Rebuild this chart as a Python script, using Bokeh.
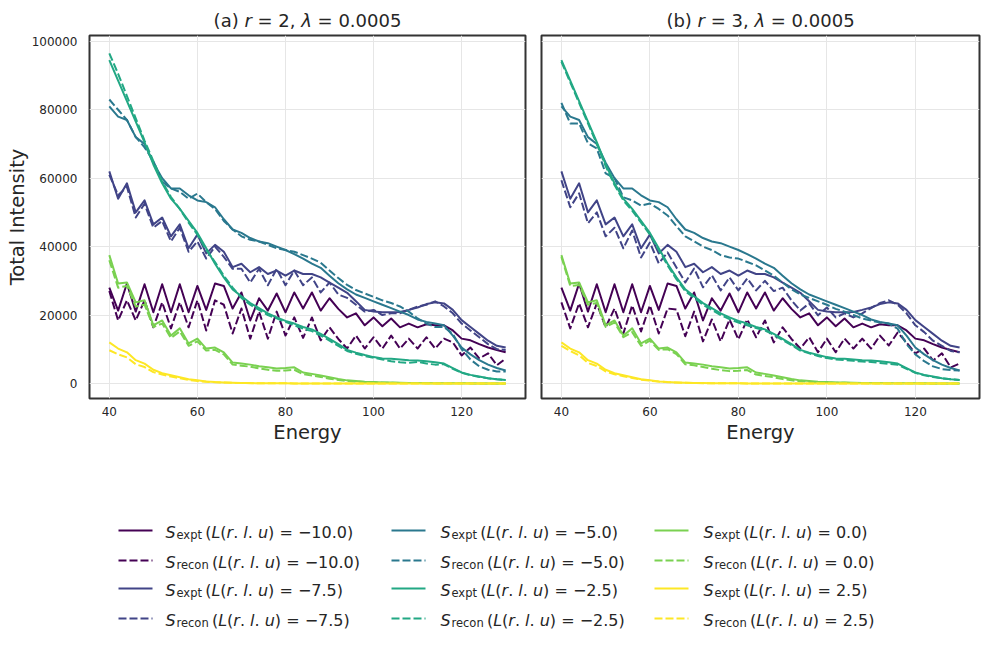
from bokeh.plotting import figure
from bokeh.models import Range1d, FixedTicker, NumeralTickFormatter
from bokeh.layouts import column, row
from bokeh.embed import file_html
from bokeh.resources import INLINE
from bokeh.core.properties import value

energy = [40, 42, 44, 46, 48, 50, 52, 54, 56, 58, 60, 62, 64, 66, 68, 70, 72, 74, 76, 78,
          80, 82, 84, 86, 88, 90, 92, 94, 96, 98, 100, 102, 104, 106, 108, 110, 112, 114,
          116, 118, 120, 122, 124, 126, 128, 130]

levels = ["\u221210.0", "\u22127.5", "\u22125.0", "\u22122.5", "0.0", "2.5"]
colors = ["#440154", "#414487", "#2a788e", "#22a884", "#7ad151", "#fde725"]

# experimental spectra (identical in both panels)
expt_m10 = [28000, 21300, 29200, 21000, 29000, 20800, 29000, 20800, 29000, 20800, 28500, 21500, 29200, 28500, 21900, 26600, 18400, 24900, 21300, 26300,
            20800, 26600, 21900, 26600, 21300, 24900, 21800, 19300, 20500, 17000, 19300, 16700, 19000, 16400, 17500, 16400, 17300, 17000, 17000, 15500,
            13100, 12600, 11500, 10500, 9800, 9100]
expt_m75 = [62000, 54000, 58500, 50000, 53500, 46500, 48500, 43000, 46500, 39500, 43500, 38000, 40500, 38500, 34000, 35000, 32500, 34000, 32000, 33000,
            31500, 33000, 32000, 32000, 31000, 29500, 28000, 26500, 24000, 21500, 21000, 20800, 20800, 20900, 21500, 22200, 23200, 23700, 23400, 21500,
            18500, 16500, 14500, 12500, 11000, 10500]
expt_m50 = [81000, 78000, 77000, 72000, 70000, 64500, 60000, 57000, 57000, 55000, 53500, 53000, 51500, 48000, 45000, 44000, 42500, 41500, 41000, 40000,
            39000, 37800, 36500, 35000, 33800, 31500, 29300, 27500, 26000, 25000, 24000, 23000, 22000, 21000, 20000, 18700, 18000, 17500, 17000, 14000,
            10500, 8500, 6800, 5500, 4500, 3800]
expt_m25 = [94500, 88500, 82500, 76500, 70500, 64000, 58500, 54000, 51000, 47500, 44000, 39500, 35000, 31000, 27500, 25500, 23500, 22000, 20500, 19300,
            18300, 17500, 16500, 15800, 14500, 13000, 11500, 9800, 9000, 8300, 7700, 7300, 7200, 7000, 6800, 6700, 6500, 6200, 5800, 4500,
            3200, 2500, 2000, 1500, 1200, 1000]
expt_0 = [37500, 29200, 29500, 23700, 24300, 17000, 18400, 14000, 16100, 11700, 13100, 10200, 10500, 9100, 6100, 5800, 5500, 5000, 4700, 4400,
          4500, 4700, 3200, 2800, 2300, 1800, 1300, 900, 700, 500, 400, 300, 250, 200, 150, 120, 100, 80, 60, 50,
          40, 30, 20, 15, 10, 5]
expt_25 = [12000, 10200, 9100, 6800, 5800, 4000, 3000, 2400, 1800, 1200, 900, 600, 400, 300, 200, 150, 100, 80, 60, 40,
           30, 20, 15, 10, 8, 6, 5, 4, 3, 2, 2, 1, 1, 1, 1, 0, 0, 0, 0, 0,
           0, 0, 0, 0, 0, 0]

# reconstructions, panel (a): r = 2
recon_a_m10 = [27000, 18400, 24300, 18400, 24300, 16400, 23700, 16100, 23700, 16400, 24300, 15500, 24300, 23000, 14600, 21900, 13100, 21000, 13100, 21000,
               14000, 19300, 13300, 19300, 12600, 16400, 13000, 10200, 14000, 10200, 13500, 10200, 14000, 10200, 13100, 10200, 13500, 10200, 13100, 12000,
               8200, 10500, 7300, 8800, 5300, 7300]
recon_a_m75 = [61000, 55000, 57500, 48500, 52500, 45500, 47500, 41500, 45500, 38500, 41500, 36500, 40000, 37000, 33500, 33500, 29500, 33500, 28700, 33500,
               28700, 33000, 28700, 31000, 26600, 29500, 26000, 25000, 23000, 21000, 21500, 20000, 20500, 20500, 21500, 22500, 23000, 24000, 22500, 20500,
               17500, 15500, 13500, 11500, 10000, 9800]
recon_a_m50 = [83000, 80000, 77000, 72000, 69000, 65000, 59000, 57000, 56000, 54000, 55500, 53000, 51000, 47500, 45000, 43000, 42000, 41500, 40500, 39500,
               39000, 38500, 37500, 36500, 35300, 33000, 30800, 28800, 27300, 26300, 25300, 24300, 23500, 22500, 21000, 19000, 17500, 16500, 16500, 14500,
               10000, 7000, 5000, 4000, 3500, 3500]
recon_a_m25 = [96500, 90500, 84000, 77500, 71000, 65000, 59000, 54500, 51000, 47000, 43500, 39000, 35500, 31500, 28000, 25000, 23000, 21500, 20000, 19000,
               18000, 17000, 16000, 15300, 14000, 12500, 11000, 9500, 8700, 8000, 7500, 7000, 6500, 6200, 6000, 6300, 5800, 5500, 5600, 4300,
               3100, 2400, 1900, 1500, 1200, 1000]
recon_a_0 = [36000, 28000, 28500, 22500, 23000, 16500, 17500, 13300, 15200, 11000, 12300, 9600, 9800, 8500, 5500, 5200, 4900, 4400, 4000, 3700,
             3800, 4000, 2700, 2300, 1900, 1400, 1000, 700, 500, 400, 300, 250, 200, 150, 120, 100, 80, 60, 50, 40,
             30, 20, 15, 10, 5, 5]
recon_a_25 = [9700, 8500, 7600, 5600, 4800, 3300, 2600, 2000, 1500, 1000, 700, 500, 350, 250, 170, 120, 90, 70, 50, 35,
              25, 18, 12, 8, 6, 5, 4, 3, 2, 2, 1, 1, 1, 1, 1, 0, 0, 0, 0, 0,
              0, 0, 0, 0, 0, 0]

# reconstructions, panel (b): r = 3
recon_b_m10 = [23700, 16100, 23400, 16400, 23400, 16400, 21900, 14600, 22800, 15200, 22800, 14600, 21900, 21600, 13800, 21000, 12300, 18700, 12300, 18700,
               12900, 18700, 13500, 18400, 12000, 16400, 13000, 10200, 13500, 9100, 13100, 9100, 13100, 10200, 13100, 10200, 14000, 11100, 14900, 12000,
               8800, 10200, 6700, 8800, 4700, 5800]
recon_b_m75 = [59400, 51500, 55600, 46800, 50000, 43000, 45500, 39500, 44700, 36800, 41200, 35100, 38300, 33900, 29500, 33600, 28100, 31600, 27200, 31000,
               27200, 30700, 27200, 30000, 27000, 28000, 24300, 21300, 23400, 19900, 22200, 19300, 20500, 19300, 20500, 22000, 23500, 24300, 23000, 20500,
               17000, 15000, 12500, 11000, 9500, 9100]
recon_b_m50 = [82000, 76000, 76000, 70200, 68700, 61400, 60000, 54400, 53500, 52000, 52600, 51000, 49100, 46000, 43000, 41500, 40000, 39000, 37500, 36800,
               36500, 35500, 34500, 33000, 31500, 29500, 27500, 26000, 25000, 24000, 23000, 21800, 21000, 20000, 19000, 18400, 17800, 17500, 16000, 11500,
               8500, 6500, 5000, 4200, 3900, 3800]
recon_b_m25 = [94000, 88000, 82000, 76000, 70000, 63500, 58000, 53500, 50500, 47000, 43500, 39000, 34500, 30500, 27000, 25000, 23000, 21500, 20000, 18800,
               17800, 17000, 16200, 15500, 14200, 12700, 11200, 9600, 8800, 8000, 7400, 7000, 6800, 6600, 6400, 6300, 6000, 5700, 5500, 4300,
               3100, 2400, 1900, 1500, 1200, 1000]
recon_b_0 = [37000, 28500, 28800, 23000, 23500, 16500, 17800, 13500, 15000, 11000, 12500, 9800, 10000, 8600, 5600, 5300, 4800, 4300, 3900, 3600,
             3700, 3900, 2600, 2200, 1800, 1300, 900, 650, 450, 350, 280, 220, 180, 140, 110, 90, 70, 55, 45, 35,
             25, 18, 12, 8, 5, 5]
recon_b_25 = [11000, 9500, 8200, 6000, 5100, 3500, 2700, 2100, 1600, 1100, 800, 550, 380, 260, 180, 130, 90, 70, 50, 35,
              25, 18, 12, 8, 6, 5, 4, 3, 2, 2, 1, 1, 1, 1, 1, 0, 0, 0, 0, 0,
              0, 0, 0, 0, 0, 0]

expt = [expt_m10, expt_m75, expt_m50, expt_m25, expt_0, expt_25]
recon_a = [recon_a_m10, recon_a_m75, recon_a_m50, recon_a_m25, recon_a_0, recon_a_25]
recon_b = [recon_b_m10, recon_b_m75, recon_b_m50, recon_b_m25, recon_b_0, recon_b_25]

x_ticks = [40, 60, 80, 100, 120]
y_ticks = [0, 20000, 40000, 60000, 80000, 100000]

FONT = "DejaVu Sans"
TXT = "#262626"
DASH = "8 3"
LW = 2

# approximate DejaVu Sans advance widths (em)
ADV = {' ': .318, '(': .390, ')': .390, '.': .318, ',': .318, '=': .838, '\u2212': .838,
       'L': .557, 'r': .411, 'l': .278, 'u': .634, 'S': .635, 'a': .613, 'b': .635, 'e': .615,
       'x': .592, 'p': .635, 't': .392, 'c': .550, 'o': .612, 'n': .634, '\u03bb': .592}


def tw(s, size):
    return sum(ADV.get(ch, .636) for ch in s) * size


def strip(width, height):
    s = figure(width=width, height=height, output_backend="svg", toolbar_location=None,
               x_range=Range1d(0, width), y_range=Range1d(height, 0),
               min_border=0, min_border_left=0, min_border_right=0,
               min_border_top=0, min_border_bottom=0)
    s.axis.visible = False
    s.grid.visible = False
    s.outline_line_color = None
    s.background_fill_color = "white"
    s.border_fill_color = "white"
    return s


def put_pieces(pieces, x0, y, size, store):
    x = x0
    for t, st in pieces:
        lead = len(t) - len(t.lstrip(" "))
        d = store[st]
        d["x"].append(x + tw(" " * lead, size)); d["y"].append(y); d["text"].append(t.strip(" "))
        x += tw(t, size)


def draw_store(p, store, size, baseline):
    for st, d in store.items():
        if d["x"]:
            p.text(x="x", y="y", text="text", source=d, text_font=value(FONT),
                   text_font_size=f"{size}px", text_font_style=("italic" if st == "i" else "normal"),
                   text_color=TXT, text_baseline=baseline, text_align="left")


# ---- title strip ----
TITLE_H = 33
title = strip(989, TITLE_H)
tstore = {"n": {"x": [], "y": [], "text": []}, "i": {"x": [], "y": [], "text": []}}
TFS = 18
for cx, lab, rv in [(307, "(a) ", "2"), (760, "(b) ", "3")]:
    pieces = [(lab, "n"), ("r", "i"), (" = " + rv + ",", "n"), (" \u03bb", "i"), (" = 0.0005", "n")]
    total = sum(tw(t, TFS) for t, _ in pieces)
    put_pieces(pieces, cx - total / 2, 20, TFS, tstore)
draw_store(title, tstore, TFS, "middle")


def make_panel(recon, width, left, right, show_y):
    p = figure(width=width, height=415, output_backend="svg", toolbar_location=None,
               x_range=Range1d(35.5, 134.5), y_range=Range1d(-4400, 101700),
               min_border_left=left, min_border_right=right,
               min_border_top=2, min_border_bottom=50)
    p.background_fill_color = "white"
    p.border_fill_color = "white"
    p.outline_line_color = "#333333"
    p.outline_line_width = 2
    for ax in (p.xaxis[0], p.yaxis[0]):
        ax.axis_line_color = None
        ax.major_tick_line_color = None
        ax.minor_tick_line_color = None
        ax.major_label_text_font = FONT
        ax.major_label_text_font_size = "12px"
        ax.major_label_text_color = TXT
        ax.axis_label_text_font = FONT
        ax.axis_label_text_font_size = "19.5px"
        ax.axis_label_text_font_style = "normal"
        ax.axis_label_text_color = TXT
    p.xaxis.ticker = FixedTicker(ticks=x_ticks)
    p.yaxis.ticker = FixedTicker(ticks=y_ticks)
    p.xgrid.ticker = FixedTicker(ticks=x_ticks)
    p.ygrid.ticker = FixedTicker(ticks=y_ticks)
    p.yaxis.formatter = NumeralTickFormatter(format="0")
    p.xaxis.axis_label = "Energy"
    p.xaxis.major_label_standoff = 2
    p.xaxis.axis_label_standoff = 2
    p.yaxis.major_label_standoff = 6
    p.yaxis.axis_label_standoff = 0
    if show_y:
        p.yaxis.axis_label = "Total Intensity"
    else:
        p.yaxis.visible = False
    for g in (p.xgrid[0], p.ygrid[0]):
        g.grid_line_color = "#e6e6e6"
        g.grid_line_width = 1

    for i in range(len(levels)):
        p.line(energy, expt[i], line_color=colors[i], line_width=LW, line_join="round")
        p.line(energy, recon[i], line_color=colors[i], line_width=LW, line_dash=DASH, line_join="round")
    return p


pa = make_panel(recon_a, 533, 89, 8, True)
pb = make_panel(recon_b, 456, 8, 10, False)

# ---- legend (3 columns x 4 rows), drawn as its own strip ----
LEG_TOP = TITLE_H + 415
leg = strip(989, 646 - LEG_TOP)

col_line_x = [118, 391, 654]
col_text_x = [165, 440, 703]
row_y = [y - LEG_TOP for y in (530, 560, 588, 618)]
MAIN = 16
SUB = 11.5

lstore = {"n": {"x": [], "y": [], "text": []}, "i": {"x": [], "y": [], "text": []}}
sub_txt = {"x": [], "y": [], "text": []}

entries = []
for i, lev in enumerate(levels):
    entries.append((i, lev, "expt"))
    entries.append((i, lev, "recon"))

for k, (i, lev, kind) in enumerate(entries):
    c, r = divmod(k, 4)
    y = row_y[r]
    x0 = col_line_x[c]
    leg.line([x0, x0 + 34], [y, y], line_color=colors[i], line_width=LW,
             line_dash=(DASH if kind == "recon" else "solid"))
    base = y + 1.5
    xs = col_text_x[c]
    lstore["i"]["x"].append(xs); lstore["i"]["y"].append(base); lstore["i"]["text"].append("S")
    xsub = xs + 11
    sub_txt["x"].append(xsub); sub_txt["y"].append(base + 3); sub_txt["text"].append(kind)
    xm = xsub + tw(kind, SUB) + 3
    pieces = [("(", "n"), ("L", "i"), ("(", "n"), ("r", "i"), (".", "n"), (" l", "i"),
              (".", "n"), (" u", "i"), (") = " + lev + ")", "n")]
    put_pieces(pieces, xm, base, MAIN, lstore)

draw_store(leg, lstore, MAIN, "alphabetic")
leg.text(x="x", y="y", text="text", source=sub_txt, text_font=value(FONT),
         text_font_size=f"{SUB}px", text_color=TXT, text_baseline="alphabetic", text_align="left")

layout = column(title, row(pa, pb), leg)
open("out.html", "w").write(file_html(layout, INLINE))
